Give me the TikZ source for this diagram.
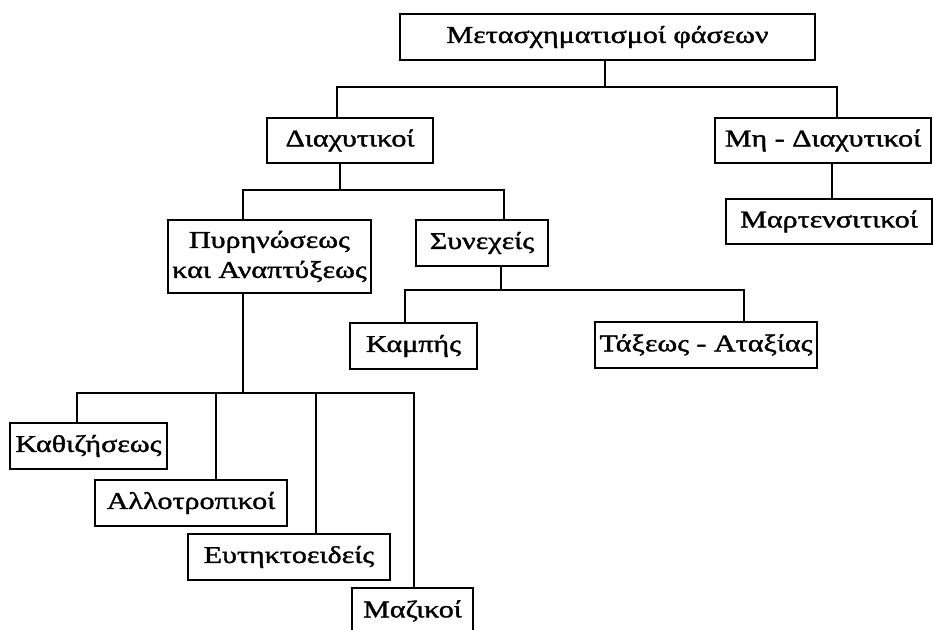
\documentclass[tikz,border=0pt]{standalone}
\usepackage{fontspec}
\setmainfont{Liberation Serif}[FakeStretch=1.25,FakeBold=1.5]
\usetikzlibrary{calc}
\begin{document}
\begin{tikzpicture}[x=1pt,y=-1pt,
  box/.style={draw,line width=1.7pt,rectangle,inner sep=0pt,minimum height=46pt,
    font=\fontsize{24}{30}\selectfont,align=center},
  conn/.style={line width=1.3pt}]
\useasboundingbox (0,0) rectangle (933,629);
\node[box,minimum width=415pt] (top) at (607.5,37) {Μετασχηματισμοί φάσεων};
\node[box,minimum width=166pt,minimum height=45pt] (diax) at (350,140.5) {Διαχυτικοί};
\node[box,minimum width=216pt,minimum height=45pt] (mhd) at (823,140.5) {Μη - Διαχυτικοί};
\node[box,minimum width=206pt,minimum height=45pt] (mart) at (829,221.5) {Μαρτενσιτικοί};
\node[box,minimum width=203pt,minimum height=73pt] (pyr) at (269.5,256.5) {Πυρηνώσεως\\και Αναπτύξεως};
\node[box,minimum width=132pt] (syn) at (482,243) {Συνεχείς};
\node[box,minimum width=127pt] (kamp) at (413.5,346) {Καμπής};
\node[box,minimum width=222pt] (tax) at (706,345) {Τάξεως - Αταξίας};
\node[box,minimum width=157pt] (kath) at (88.5,446) {Καθιζήσεως};
\node[box,minimum width=192pt] (allo) at (191,503) {Αλλοτροπικοί};
\node[box,minimum width=202pt] (eyt) at (289,557) {Ευτηκτοειδείς};
\node[box,minimum width=121pt] (maz) at (412.5,611) {Μαζικοί};
% junctions
\coordinate (j0) at (605,87);
\coordinate (j1) at (337,87);
\coordinate (j2) at (837,87);
\draw[conn] (top.south -| j0) -- (j0);
\draw[conn] (diax.north -| j1) -- (j1) -- (j2) -- (mhd.north -| j2);
\coordinate (m0) at (832,0);
\draw[conn] (mhd.south -| m0) -- (mart.north -| m0);
\coordinate (d0) at (340,190);
\coordinate (d1) at (243,190);
\coordinate (d2) at (504,190);
\draw[conn] (diax.south -| d0) -- (d0);
\draw[conn] (pyr.north -| d1) -- (d1) -- (d2) -- (syn.north -| d2);
\coordinate (s0) at (501,290);
\coordinate (s1) at (405,290);
\coordinate (s2) at (744,290);
\draw[conn] (syn.south -| s0) -- (s0);
\draw[conn] (kamp.north -| s1) -- (s1) -- (s2) -- (tax.north -| s2);
\coordinate (p0) at (243,393);
\coordinate (p1) at (77,393);
\coordinate (p2) at (216,393);
\coordinate (p3) at (316,393);
\coordinate (p4) at (414,393);
\draw[conn] (pyr.south -| p0) -- (p0);
\draw[conn] (kath.north -| p1) -- (p1) -- (p4) -- (maz.north -| p4);
\draw[conn] (p2) -- (allo.north -| p2);
\draw[conn] (p3) -- (eyt.north -| p3);
\end{tikzpicture}
\end{document}
